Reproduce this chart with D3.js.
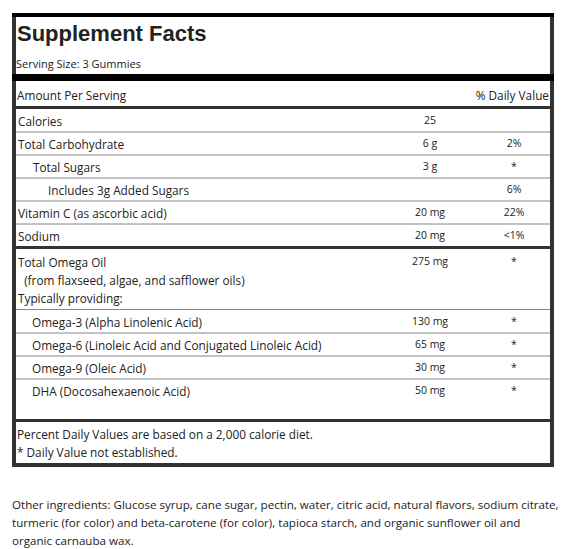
<!DOCTYPE html>
<html><head><meta charset="utf-8">
<script src="https://cdn.jsdelivr.net/npm/d3@7"></script>
<style>body{margin:0;background:#fff}</style>
</head><body>
<script>
const nutrients = ["Calories","Total Carbohydrate","Total Sugars","Includes 3g Added Sugars","Vitamin C (as ascorbic acid)","Sodium"];
const nutrientIndent = [0,0,1,2,0,0];
const nutrientAmounts = ["25","6 g","3 g","","20 mg","20 mg"];
const nutrientDV = ["","2%","*","6%","22%","<1%"];
const omegaLines = ["Total Omega Oil","  (from flaxseed, algae, and safflower oils)","Typically providing:"];
const omegaAmount = "275 mg", omegaDV = "*";
const omegas = ["Omega-3 (Alpha Linolenic Acid)","Omega-6 (Linoleic Acid and Conjugated Linoleic Acid)","Omega-9 (Oleic Acid)","DHA (Docosahexaenoic Acid)"];
const omegaAmounts = ["130 mg","65 mg","30 mg","50 mg"];
const omegaDV2 = ["*","*","*","*"];
const footnotes = ["Percent Daily Values are based on a 2,000 calorie diet.","* Daily Value not established."];
const otherLines = ["Other ingredients: Glucose syrup, cane sugar, pectin, water, citric acid, natural flavors, sodium citrate,","turmeric (for color) and beta-carotene (for color), tapioca starch, and organic sunflower oil and","organic carnauba wax."];

const F = "'Open Sans','Noto Sans',sans-serif";
const svg = d3.select("body").append("svg").attr("width",570).attr("height",549);
const col = "#333";
const L=16,R=550, VX=430, DX=514;
svg.append("rect").attr("x",14).attr("y",15).attr("width",538).attr("height",450).attr("fill","none").attr("stroke",col).attr("stroke-width",4);
svg.append("rect").attr("x",12).attr("y",13).attr("width",542).attr("height",4).attr("fill","#000");
const txt=(x,y,s,o={})=>svg.append("text").attr("x",x).attr("y",y).text(s).attr("font-family",o.fam||F).attr("font-size",o.size||11.8).attr("fill","#222").attr("font-weight",o.bold?"bold":null).attr("text-anchor",o.anchor||"start").style("white-space","pre");
txt(17,41,"Supplement Facts",{size:22,bold:true,fam:"'Liberation Sans',Arial,sans-serif"});
txt(16,68,"Serving Size: 3 Gummies",{size:11});
svg.append("rect").attr("x",12).attr("y",74).attr("width",542).attr("height",7).attr("fill","#000");
txt(17,100,"Amount Per Serving");
txt(549,100,"% Daily Value",{anchor:"end"});
const hline=(y,w,c)=>svg.append("rect").attr("x",L).attr("y",y).attr("width",R-L).attr("height",w).attr("fill",c);
hline(106,3,col);
const y = d3.scaleBand().domain(d3.range(nutrients.length)).range([109,247]);
nutrients.forEach((n,i)=>{
  const y0=y(i);
  txt(18+nutrientIndent[i]*15,y0+17,n);
  txt(VX,y0+15,nutrientAmounts[i],{anchor:"middle",size:10.5});
  txt(DX,y0+15,nutrientDV[i],{anchor:"middle",size:10.5});
  if(i<nutrients.length-1) hline(y0+y.bandwidth()-0.5,1,"#888");
});
hline(246,3,col);
omegaLines.forEach((s,i)=>txt(18,267+i*18,s));
txt(VX,265,omegaAmount,{anchor:"middle",size:10.5});
txt(DX,265,omegaDV,{anchor:"middle",size:10.5});
hline(309,1,"#888");
const y2 = d3.scaleBand().domain(d3.range(omegas.length)).range([310,402]);
omegas.forEach((n,i)=>{
  const y0=y2(i);
  txt(32,y0+17,n);
  txt(VX,y0+15,omegaAmounts[i],{anchor:"middle",size:10.5});
  txt(DX,y0+15,omegaDV2[i],{anchor:"middle",size:10.5});
  if(i<omegas.length-1) hline(y0+y2.bandwidth()-0.5,1,"#888");
});
hline(419,3,col);
footnotes.forEach((s,i)=>txt(17,439+i*18,s));
otherLines.forEach((s,i)=>txt(12,509+i*18,s,{size:11.6}));
</script>
</body></html>
